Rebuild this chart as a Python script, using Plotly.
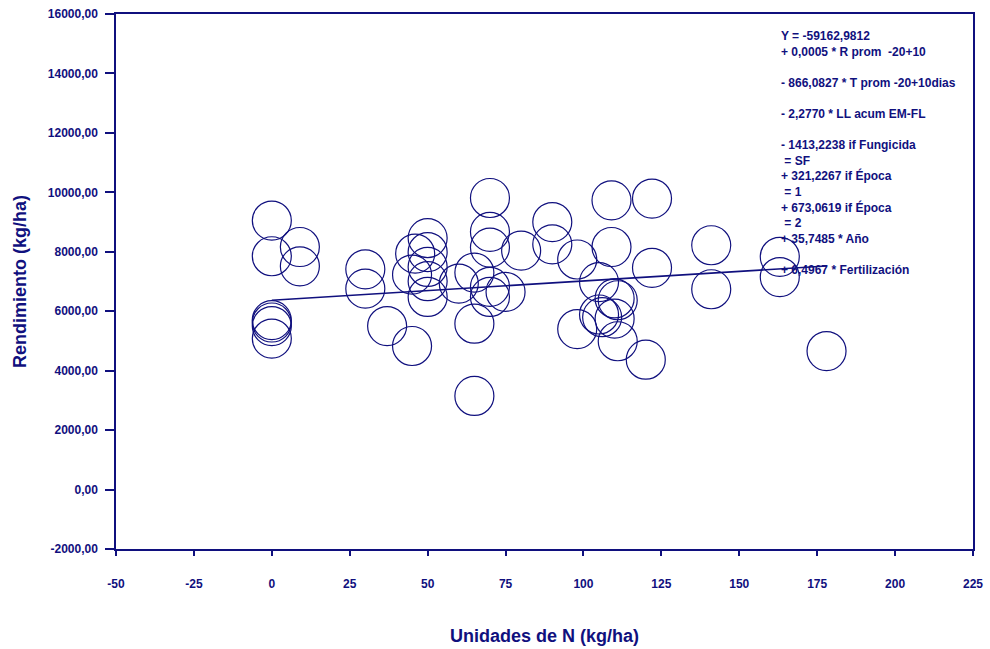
import plotly.graph_objects as go

# Nitrogen fertilisation (kg/ha) vs. grain yield (kg/ha)
fert_n = [0, 0, 0, 0, 0, 0,
          9, 9,
          30, 30,
          37,
          45, 45,
          46,
          50, 50, 50, 50, 50,
          60,
          65, 65, 65,
          70, 70, 70, 70, 70,
          75,
          80,
          90, 90,
          98, 98,
          105, 105,
          106,
          109, 109,
          110, 110,
          111, 111,
          120,
          122, 122,
          141, 141,
          163, 163,
          178]
yield_kg = [9050, 7850, 5700, 5620, 5500, 5080,
            8160, 7510,
            7410, 6760,
            5500,
            7230, 4830,
            7940,
            8460, 7990, 7490, 7010, 6480,
            6930,
            7300, 5580, 3150,
            9810, 8670, 8140, 6820, 6480,
            6650,
            8040,
            9000, 8250,
            7740, 5400,
            6980, 5890,
            5800,
            9730, 8160,
            6430, 5750,
            6370, 4990,
            4370,
            9790, 7460,
            8220, 6740,
            7830, 7150,
            4660]

# Fitted trend over the fertilisation range
fit_n = [0, 178]
fit_yield = [6370, 7520]

x_ticks = [-50, -25, 0, 25, 50, 75, 100, 125, 150, 175, 200, 225]
x_tick_labels = ["-50", "-25", "0", "25", "50", "75", "100", "125", "150", "175", "200", "225"]
y_ticks = [-2000, 0, 2000, 4000, 6000, 8000, 10000, 12000, 14000, 16000]
y_tick_labels = ["-2000,00", "0,00", "2000,00", "4000,00", "6000,00", "8000,00",
                 "10000,00", "12000,00", "14000,00", "16000,00"]

equation_lines = [
    "Y = -59162,9812",
    "+ 0,0005 * R prom &nbsp;-20+10",
    "",
    "- 866,0827 * T prom -20+10dias",
    "",
    "- 2,2770 * LL acum EM-FL",
    "",
    "- 1413,2238 if Fungicida",
    "&nbsp;= SF",
    "+ 321,2267 if Época",
    "&nbsp;= 1",
    "+ 673,0619 if Época",
    "&nbsp;= 2",
    "+ 35,7485 * Año",
    "",
    "+ 6,4967 * Fertilización",
]

NAVY = "#10107e"
FONT = "Liberation Sans, Arial, sans-serif"

fig = go.Figure()
fig.add_trace(go.Scatter(
    x=fert_n, y=yield_kg, mode="markers",
    marker=dict(symbol="circle-open", size=39, color=NAVY, line=dict(width=1.2, color=NAVY)),
    showlegend=False, hoverinfo="x+y",
))
fig.add_trace(go.Scatter(
    x=fit_n, y=fit_yield, mode="lines",
    line=dict(color=NAVY, width=1.6),
    showlegend=False,
))

fig.add_annotation(
    xref="paper", yref="paper", x=0.7736, y=0.976,
    xanchor="left", yanchor="top", align="left", showarrow=False,
    text="<br>".join(equation_lines),
    font=dict(family=FONT, size=12, color=NAVY, weight="bold"),
)

axis_common = dict(
    showgrid=False, zeroline=False, showline=True, mirror=True, automargin=False,
    linecolor=NAVY, linewidth=1.5, ticks="outside", tickcolor=NAVY, tickwidth=1.5,
    tickfont=dict(family=FONT, size=12, color=NAVY, weight="bold"),
)

fig.update_layout(
    width=990, height=649,
    margin=dict(l=116, r=17, t=14, b=100),
    paper_bgcolor="white", plot_bgcolor="white",
    xaxis=dict(
        range=[-50, 225], tickmode="array", tickvals=x_ticks, ticktext=x_tick_labels,
        ticklen=5, ticklabelstandoff=18,
        title=dict(text="Unidades de N (kg/ha)", standoff=39,
                   font=dict(family=FONT, size=18, color=NAVY, weight="bold")),
        **axis_common,
    ),
    yaxis=dict(
        range=[-2000, 16000], tickmode="array", tickvals=y_ticks, ticktext=y_tick_labels,
        ticklen=9, ticklabelstandoff=5,
        title=dict(text="Rendimiento (kg/ha)", standoff=16,
                   font=dict(family=FONT, size=18, color=NAVY, weight="bold")),
        **axis_common,
    ),
)

fig.write_html("out.html")
